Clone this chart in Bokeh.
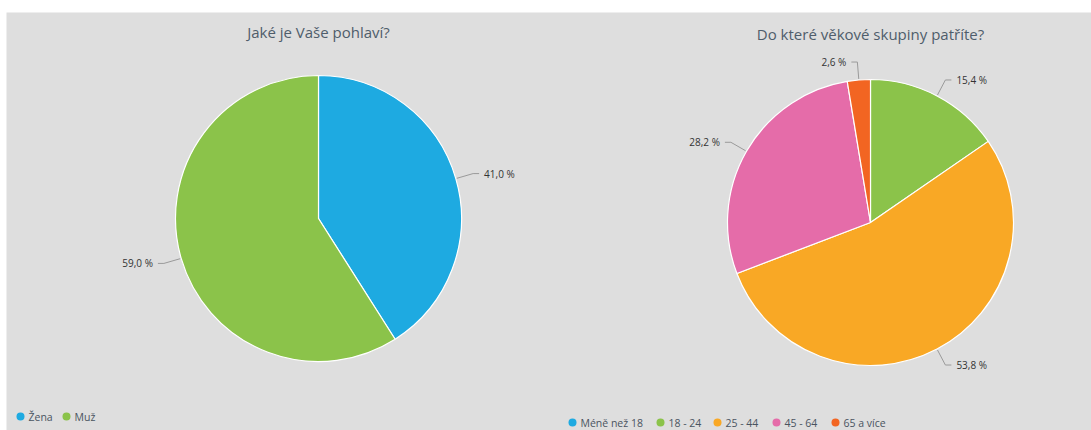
import math
from bokeh.plotting import figure
from bokeh.models import Range1d, ColumnDataSource
from bokeh.embed import file_html
from bokeh.resources import INLINE
from bokeh.core.properties import value

# ---------------- data ----------------
gender_title = "Jaké je Vaše pohlaví?"
gender_categories = ["Žena", "Muž"]
gender_values = [41.0, 59.0]
gender_colors = ["#1eaae1", "#8bc34a"]

age_title = "Do které věkové skupiny patříte?"
age_categories = ["Méně než 18", "18 - 24", "25 - 44", "45 - 64", "65 a více"]
age_values = [0.0, 15.4, 53.8, 28.2, 2.6]
age_colors = ["#1eaae1", "#8bc34a", "#f9a825", "#e56ca9", "#f26522"]

# ---------------- layout ----------------
W, H = 1091, 430
TOP = 12
LEFT = 6
PW, PH = W - LEFT, H - TOP  # frame size (data units == pixels)

def sx(s):  # screen x -> data x
    return s - LEFT

def sy(s):  # screen y -> data y
    return H - s

FONT = "Open Sans"
TITLE_COLOR = "#4f5d6b"
LABEL_COLOR = "#333333"
LEGEND_COLOR = "#4a5461"
BG = "#dedede"

p = figure(width=W, height=H, output_backend="svg", toolbar_location=None,
           x_range=Range1d(0, PW), y_range=Range1d(0, PH),
           min_border_top=TOP, min_border_left=LEFT, min_border_right=0, min_border_bottom=0)
p.axis.visible = False
p.grid.visible = False
p.outline_line_color = None
p.background_fill_color = BG
p.border_fill_color = "white"


def draw_pie(cx, cy, r, values, colors, title, title_y):
    start = 90.0
    ws, we, wc = [], [], []
    lines_x, lines_y = [], []
    lx, ly, lt, la = [], [], [], []
    for v, c in zip(values, colors):
        end = start - v * 3.6
        if v > 0:
            ws.append(math.radians(end))
            we.append(math.radians(start))
            wc.append(c)
            mid = math.radians((start + end) / 2)
            co, si = math.cos(mid), math.sin(mid)
            side = 1 if co >= 0 else -1
            ex, ey = cx + (r + 1) * co, cy + (r + 1) * si
            bx, by = cx + (r + 18) * co, cy + (r + 18) * si
            ccx = bx + side * 6
            lines_x.append([ex, bx, ccx])
            lines_y.append([ey, by, by])
            lx.append(ccx + side * 5)
            ly.append(by)
            lt.append(f"{v:.1f} %".replace(".", ","))
            la.append("left" if side > 0 else "right")
        start = end
    src = ColumnDataSource(dict(s=ws, e=we, c=wc))
    p.wedge(x=cx, y=cy, radius=r, radius_units="screen", start_angle="s", end_angle="e",
            direction="anticlock", fill_color="c", line_color="white", line_width=1.2, source=src)
    p.multi_line(xs=lines_x, ys=lines_y, line_color="#9a9a9a", line_width=1)
    p.text(x=lx, y=ly, text=lt, text_align=la, text_baseline="middle",
           text_font=value(FONT), text_font_size="10px", text_color=LABEL_COLOR)
    p.text(x=[cx], y=[title_y], text=[title], text_align="center", text_baseline="middle",
           text_font=value(FONT), text_font_size="15px", text_color=TITLE_COLOR)


def draw_legend(xs, y, cats, colors):
    p.scatter(x=xs, y=[y] * len(xs), marker="circle", size=8, fill_color=colors,
              line_color=None)
    p.text(x=[x + 8 for x in xs], y=[y] * len(xs), text=cats, text_align="left",
           text_baseline="middle", text_font=value(FONT), text_font_size="10.5px",
           text_color=LEGEND_COLOR)


draw_pie(sx(318), sy(218), 143, gender_values, gender_colors, gender_title, sy(31))
draw_pie(sx(870), sy(222), 143, age_values, age_colors, age_title, sy(33))

draw_legend([sx(20), sx(66)], sy(416), gender_categories, gender_colors)
draw_legend([sx(572), sx(660), sx(717), sx(776), sx(835)], sy(422), age_categories, age_colors)

open("out.html", "w").write(file_html(p, INLINE))
